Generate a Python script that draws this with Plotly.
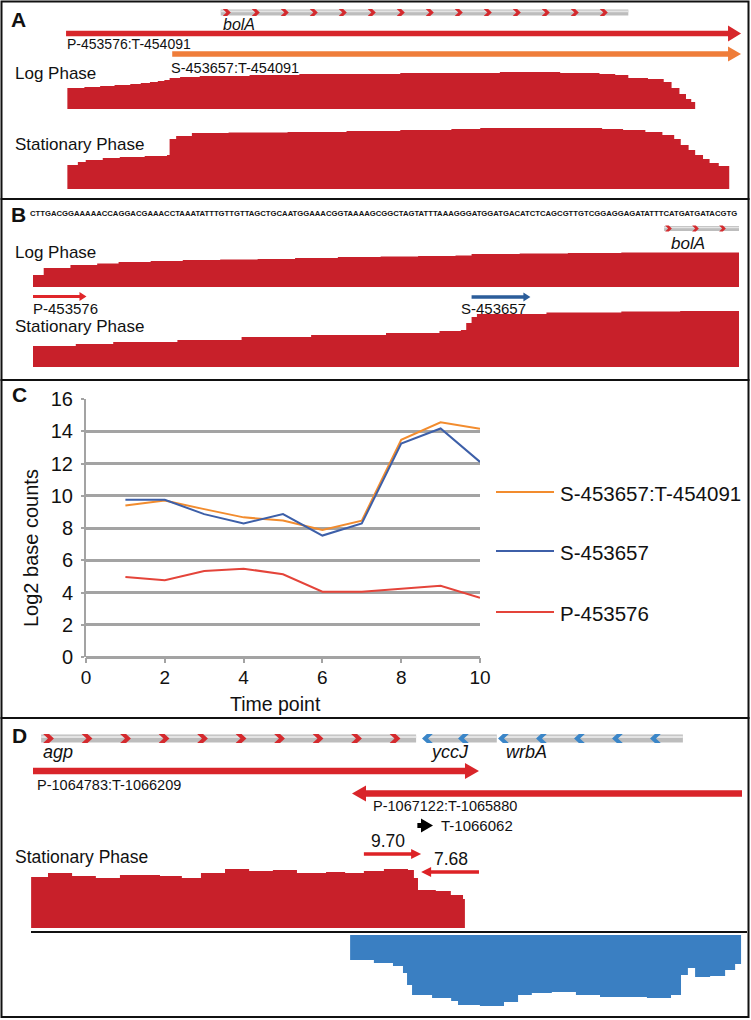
import plotly.graph_objects as go

W, H = 751, 1020
FONT = "Liberation Sans"

# ---------------- panel C data ----------------
time_point = [1, 2, 3, 4, 5, 6, 7, 8, 9, 10]
s453657_t454091 = [9.40, 9.71, 9.17, 8.66, 8.46, 7.88, 8.45, 13.47, 14.55, 14.16]
s453657 = [9.75, 9.75, 8.86, 8.28, 8.86, 7.53, 8.28, 13.24, 14.17, 12.10]
p453576 = [4.96, 4.76, 5.33, 5.48, 5.13, 4.05, 4.05, 4.22, 4.42, 3.67]
series_names = ["S-453657:T-454091", "S-453657", "P-453576"]
series_colors = ["#f28c2e", "#3d5fa8", "#e4443a"]

# ---------------- coverage tracks (step start position, depth) ----------------
a_log_pos = [453577, 453590, 453602, 453613, 453625, 453633, 453640, 453646, 453651,
             453655, 453663, 453678, 453697, 453716, 453735, 453754, 453790, 453831,
             453870, 453907, 453935, 453953, 453970, 453983, 453995, 454005, 454020,
             454032, 454038, 454044, 454049, 454053]
a_log_depth = [21, 22, 23, 24, 25, 26, 27, 28, 29, 31, 32, 33, 33, 34, 34, 35, 35, 36,
               36, 37, 37, 36, 36, 35, 34, 31, 30, 27, 21, 15, 10, 7]
a_log_end = 454056

a_stat_pos = [453577, 453585, 453591, 453604, 453617, 453636, 453653, 453655, 453660,
              453672, 453700, 453745, 453790, 453831, 453870, 453892, 453957, 453985,
              454001, 454018, 454031, 454040, 454045, 454051, 454056, 454062, 454067,
              454074]
a_stat_depth = [24, 27, 29, 31, 32, 33, 34, 50, 53, 56, 56.5, 57, 58, 59, 60, 61, 61, 60,
                59, 57, 54, 50, 44, 39, 34, 30, 26, 23]
a_stat_end = 454082

b_log_pos = [453576, 453578, 453583, 453588, 453592, 453598, 453604, 453611, 453618,
             453625, 453633, 453641, 453648, 453655, 453658, 453667, 453676, 453686,
             453697]
b_log_depth = [12, 19, 22, 23.5, 25, 26, 27, 27.5, 28, 29, 30, 30.5, 31, 31.5, 33, 33.5,
               34, 34.5, 34.5]
b_log_end = 453708

b_stat_pos = [453576, 453584, 453591, 453603, 453615, 453628, 453642, 453652, 453656,
              453657, 453658, 453659, 453672, 453686, 453697]
b_stat_depth = [21, 23, 25, 27, 30, 32, 34, 36, 37, 44, 50, 53, 54.5, 55.5, 56]
b_stat_end = 453708

d_fwd_pos = [1064777, 1064831, 1064908, 1064984, 1065061, 1065189, 1065259, 1065320,
             1065397, 1065474, 1065550, 1065627, 1065720, 1065781, 1065841, 1065905,
             1065982, 1066001, 1066014, 1066071, 1066119, 1066158]
d_fwd_depth = [51, 55, 52, 50, 53, 52, 50, 55, 59, 57, 58, 55, 56, 55, 57, 59,
               58, 50, 38, 37, 33, 29]
d_fwd_end = 1066164

d_rev_pos = [1065797, 1065873, 1065934, 1065966, 1065979, 1065995, 1066059, 1066120,
             1066142, 1066212, 1066289, 1066334, 1066378, 1066442, 1066519, 1066596,
             1066746, 1066823, 1066855, 1066877, 1066900, 1066948, 1066996, 1067028]
d_rev_depth = [25, 28, 31, 38, 50, 60, 63, 66, 70, 71, 67, 60, 58, 57, 60, 62,
               63, 60, 40, 33, 42, 41, 35, 29]
d_rev_end = 1067047

# ---------------- annotation features ----------------
bola_gene = [453694, 454005]
a_transcripts = [("P-453576:T-454091", 453576, 454091), ("S-453657:T-454091", 453657, 454091)]
b_sites = [("P-453576", 453576, 453586), ("S-453657", 453658, 453669)]
b_sequence = ("CTTGACGGAAAAACCAGGACGAAACCTAAATATTTGTTGTTAGCTGCAATGGAAACGGTAAAAGCGGCTAGTATTT"
              "AAAGGGATGGATGACATCTCAGCGTTGTCGGAGGAGATATTTCATGATGATACGTG")
b_seq_start = 453576
d_genes = [("agp", 1064809, 1066008, "+"), ("yccJ", 1066046, 1066266, "-"),
           ("wrbA", 1066289, 1066861, "-")]
d_transcripts = [("P-1064783:T-1066209", 1064783, 1066209),
                 ("P-1067122:T-1065880", 1067122, 1065803)]
d_term = ("T-1066062", 1066012, 1066062)
d_ratios = [("9.70", 1065841, 1066024), ("7.68", 1066209, 1066024)]

# x-axis windows for each panel (genome coordinates) and their pixel widths
A_RANGE, A_WPX = [453525.6, 454098.6], 751
B_RANGE, B_WPX = [453569.83, 453708.0], 739
D_RANGE, D_WPX = [1064677.5, 1067050.0], 742


def py(y):
    return 1 - y / H


def bp_per_px(rng, wpx):
    return (rng[1] - rng[0]) / wpx


fig = go.Figure()
shapes = []
annos = []


def add_track(n, pos, depth, end, rng, wpx, top_px, color, down=False, span=80):
    xs = list(pos) + [end]
    ys = list(depth) + [depth[-1]]
    fig.add_trace(go.Scatter(x=xs, y=ys, xaxis=f"x{n}", yaxis=f"y{n}", mode="lines",
                             line=dict(width=0, shape="hv", color=color), fill="tozeroy",
                             fillcolor=color, showlegend=False, hoverinfo="skip"))
    if down:
        ydom = [py(top_px + span), py(top_px)]
        yrng = [span, 0]
    else:
        ydom = [py(top_px), py(top_px - span)]
        yrng = [0, span]
    fig.update_layout(**{
        f"xaxis{n}": dict(domain=[0, wpx / W], range=rng, visible=False, anchor=f"y{n}",
                          automargin=False),
        f"yaxis{n}": dict(domain=ydom, range=yrng, visible=False, anchor=f"x{n}",
                          automargin=False),
    })


def arrow(xref, g0, g1, yc, shaft, head_h, head_px, scale, color):
    d = 1 if g1 > g0 else -1
    hl = head_px * scale
    xb = g1 - d * hl
    s, h = shaft / 2, head_h / 2
    path = (f"M {g0},{py(yc - s)} L {xb},{py(yc - s)} L {xb},{py(yc - h)} L {g1},{py(yc)} "
            f"L {xb},{py(yc + h)} L {xb},{py(yc + s)} L {g0},{py(yc + s)} Z")
    shapes.append(dict(type="path", xref=xref, yref="paper", path=path,
                       fillcolor=color, line=dict(width=0)))


def gene_glyph(xref, g0, g1, yc, h, scale, step_px, color, strand="+", offset_px=0):
    shapes.append(dict(type="rect", xref=xref, yref="paper", x0=g0, x1=g1,
                       y0=py(yc + h / 2), y1=py(yc - h / 2), fillcolor="#bdbdbd",
                       line=dict(width=0)))
    shapes.append(dict(type="rect", xref=xref, yref="paper", x0=g0, x1=g1,
                       y0=py(yc - h * 0.05), y1=py(yc - h * 0.35), fillcolor="#e4e4e4",
                       line=dict(width=0)))
    w = h * 1.35 * scale
    t = w * 0.55
    x = g0 + offset_px * scale
    while x + w <= g1 + 0.5 * scale:
        top, bot, mid = py(yc - h / 2 - 0.5), py(yc + h / 2 + 0.5), py(yc)
        if strand == "+":
            path = (f"M {x},{top} L {x + t},{top} L {x + w},{mid} L {x + t},{bot} "
                    f"L {x},{bot} L {x + w - t},{mid} Z")
        else:
            path = (f"M {x + w},{top} L {x + w - t},{top} L {x},{mid} L {x + w - t},{bot} "
                    f"L {x + w},{bot} L {x + t},{mid} Z")
        shapes.append(dict(type="path", xref=xref, yref="paper", path=path,
                           fillcolor=color, line=dict(width=0)))
        x += step_px * scale


def text(x, y, s, size, anchor="left", color="#111111", xref="paper"):
    annos.append(dict(x=x if xref != "paper" else x / W, y=py(y), xref=xref, yref="paper",
                      text=s, showarrow=False, xanchor=anchor, yanchor="middle",
                      font=dict(family=FONT, size=size, color=color)))


RED_COV = "#c8202a"
BLUE_COV = "#3a7fc2"

# ---------------- panel A ----------------
add_track(2, a_log_pos, a_log_depth, a_log_end, A_RANGE, A_WPX, 109, RED_COV)
add_track(3, a_stat_pos, a_stat_depth, a_stat_end, A_RANGE, A_WPX, 189, RED_COV)
sa = bp_per_px(A_RANGE, A_WPX)
gene_glyph("x2", bola_gene[0], bola_gene[1], 12.5, 6, sa, 29, "#d42a2e", "+", 2)
arrow("x2", a_transcripts[0][1], a_transcripts[0][2], 33.5, 5.5, 16, 13, sa, "#d7262b")
arrow("x2", a_transcripts[1][1], a_transcripts[1][2], 54, 5.5, 15, 13, sa, "#ef7d3a")
text(18, 19.5, "<b>A</b>", 21, "center")
text(221, 24, "<i>bolA</i>", 16)
text(65, 44.5, a_transcripts[0][0], 14)
text(169, 68, a_transcripts[1][0], 14.5)
text(13, 74, "Log Phase", 17)
text(13, 145, "Stationary Phase", 17)

# ---------------- panel B ----------------
add_track(4, b_log_pos, b_log_depth, b_log_end, B_RANGE, B_WPX, 287, RED_COV)
add_track(5, b_stat_pos, b_stat_depth, b_stat_end, B_RANGE, B_WPX, 367, RED_COV)
sb = bp_per_px(B_RANGE, B_WPX)
gene_glyph("x4", bola_gene[0], bola_gene[1], 228.5, 5, sb, 27, "#d42a2e", "+", 1)
arrow("x4", b_sites[0][1], b_sites[0][2], 296.5, 3, 9, 7, sb, "#e0262a")
arrow("x4", b_sites[1][1], b_sites[1][2], 297, 3.5, 9, 7, sb, "#2b5d9a")
seq_mid = b_seq_start + (len(b_sequence) - 1) / 2
annos.append(dict(x=seq_mid, y=py(213.5), xref="x4", yref="paper", text="<b>" + b_sequence + "</b>",
                  showarrow=False, xanchor="center", yanchor="middle",
                  font=dict(family=FONT, size=7.7, color="#111111")))
text(18.5, 214, "<b>B</b>", 21, "center")
text(669, 243.5, "<i>bolA</i>", 17)
text(13, 252.5, "Log Phase", 17)
text(31, 308.5, b_sites[0][0], 15)
text(459, 308, b_sites[1][0], 15)
text(13, 326.5, "Stationary Phase", 17)

# ---------------- panel C ----------------
for name, vals, col in zip(series_names, [s453657_t454091, s453657, p453576], series_colors):
    fig.add_trace(go.Scatter(x=time_point, y=vals, mode="lines", name=name,
                             line=dict(color=col, width=2), showlegend=False,
                             cliponaxis=False))
GRID = "#a3a3a3"
fig.update_layout(
    xaxis=dict(domain=[86 / W, 480 / W], range=[0, 10], tickvals=[0, 2, 4, 6, 8, 10],
               showgrid=False, zeroline=False, showline=False, ticks="outside", ticklen=5,
               tickwidth=1.5, tickcolor=GRID, ticklabelstandoff=-2, automargin=False,
               tickfont=dict(family=FONT, size=19, color="#111111"), anchor="y"),
    yaxis=dict(domain=[py(657), py(399)], range=[0, 16], tickvals=list(range(0, 17, 2)),
               showgrid=True, gridcolor=GRID, gridwidth=2.5, zeroline=True,
               zerolinecolor=GRID, zerolinewidth=2.5, showline=True, linecolor=GRID,
               linewidth=2, ticks="outside", ticklen=3, tickwidth=2, tickcolor=GRID,
               ticklabelstandoff=4, automargin=False,
               tickfont=dict(family=FONT, size=20, color="#111111"), anchor="x"),
)
text(19.5, 395, "<b>C</b>", 21, "center")
text(275, 704, "Time point", 19.5, "center")
annos.append(dict(x=31 / W, y=py(548), xref="paper", yref="paper", text="Log2 base counts",
                  showarrow=False, textangle=-90, xanchor="center", yanchor="middle",
                  font=dict(family=FONT, size=20, color="#111111")))
for name, col, ly in zip(series_names, series_colors, [492, 551, 612]):
    shapes.append(dict(type="line", xref="paper", yref="paper", x0=496 / W, x1=554 / W,
                       y0=py(ly), y1=py(ly), line=dict(color=col, width=2)))
    text(558, ly + 1, name, 20.5)

# ---------------- panel D ----------------
add_track(6, d_fwd_pos, d_fwd_depth, d_fwd_end, D_RANGE, D_WPX, 928, RED_COV)
add_track(7, d_rev_pos, d_rev_depth, d_rev_end, D_RANGE, D_WPX, 935, BLUE_COV, down=True)
sd = bp_per_px(D_RANGE, D_WPX)
gene_offsets = {"agp": 2, "yccJ": -6, "wrbA": -6}
gene_steps = {"agp": 38.5, "yccJ": 36, "wrbA": 38}
for gname, g0, g1, strand in d_genes:
    col = "#d42a2e" if strand == "+" else "#3b86c8"
    gene_glyph("x6", g0, g1, 738.5, 8, sd, gene_steps[gname], col, strand, gene_offsets[gname])
    text((g0 - D_RANGE[0]) / sd, 752, f"<i>{gname}</i>", 18)
arrow("x6", d_transcripts[0][1], d_transcripts[0][2], 771, 6.5, 16, 14, sd, "#d9252a")
arrow("x6", d_transcripts[1][1], d_transcripts[1][2], 793.5, 6.5, 16, 14, sd, "#d9252a")
text(35, 785, d_transcripts[0][0], 14.5)
text(371, 806, d_transcripts[1][0], 14.5)
arrow("x6", d_term[1], d_term[2], 825.5, 5, 14, 12, sd, "#000000")
text(439, 825.5, d_term[0], 15)
for (lab, g0, g1), ly, lx in zip(d_ratios, [854, 872], [388, 451]):
    arrow("x6", g0, g1, ly, 3.5, 10, 10, sd, "#dd2226")
    text(lx, ly - 13, lab, 17.5, "center")
text(19, 735.5, "<b>D</b>", 21, "center")
text(13, 856.5, "Stationary Phase", 17.5)
shapes.append(dict(type="line", xref="paper", yref="paper", x0=31 / W, x1=747 / W,
                   y0=py(932), y1=py(932), line=dict(color="#111111", width=2)))

# ---------------- panel frames ----------------
for y0, y1 in [(1.5, 199), (199, 380), (380, 718), (718, 1017)]:
    shapes.append(dict(type="rect", xref="paper", yref="paper", x0=1.5 / W, x1=748.5 / W,
                       y0=py(y1), y1=py(y0), line=dict(color="#111111", width=2),
                       fillcolor="rgba(0,0,0,0)"))

fig.update_layout(width=W, height=H,
                  margin=dict(l=0, r=0, t=0, b=0, pad=0, autoexpand=False),
                  paper_bgcolor="white", plot_bgcolor="rgba(0,0,0,0)",
                  shapes=shapes, annotations=annos, showlegend=False)
fig.write_html("out.html", config={"displayModeBar": False},
               post_script="document.body.style.margin='0';document.body.style.overflow='hidden';")
